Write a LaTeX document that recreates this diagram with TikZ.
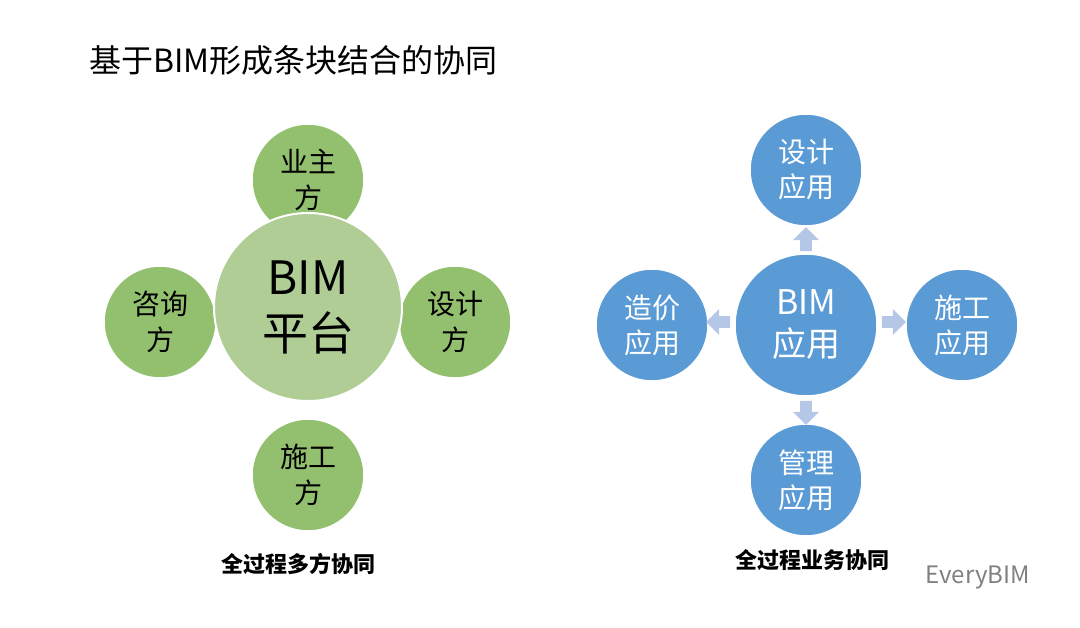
\documentclass[tikz,border=0pt]{standalone}
\usepackage{fontspec}
\setmainfont{Noto Sans CJK SC}
\usetikzlibrary{shapes.arrows}
\definecolor{greenbig}{HTML}{AFCD95}
\definecolor{greensmall}{HTML}{93C06E}
\definecolor{bluecirc}{HTML}{5B9BD5}
\definecolor{bluearrow}{HTML}{B4C7E7}
\begin{document}
\begin{tikzpicture}[x=1pt,y=1pt,
    party/.style={circle, fill=greensmall, draw=white, line width=1.5pt, minimum size=112pt, inner sep=0pt, align=center, font=\fontsize{28}{36}\selectfont},
    app/.style={circle, fill=bluecirc, draw=white, line width=1.5pt, minimum size=112pt, inner sep=0pt, align=center, text=white, font=\fontsize{28}{35}\selectfont},
    flow/.style={single arrow, fill=bluearrow, minimum height=24pt, minimum width=26pt, single arrow head extend=4pt, inner sep=3pt}]

  \useasboundingbox (0,0) rectangle (1080,628);
  \node[anchor=west, font=\fontsize{32}{38}\selectfont] (title) at (86,568) {基于BIM形成条块结合的协同};

  % left: parties
  \node[party] (owner) at (308,448) {业主\\方};
  \node[party] (consult) at (160,306) {咨询\\方};
  \node[party] (design) at (455,306) {设计\\方};
  \node[party] (build) at (308,153) {施工\\方};
  \node[circle, fill=greenbig, draw=white, line width=2pt, minimum size=188pt, inner sep=0pt, align=center, font=\fontsize{46}{56}\selectfont] (platform) at (308,321) {BIM\\平台};
  \node[font=\bfseries\fontsize{22}{26}\selectfont] (leftcap) at (298,64) {全过程多方协同};

  % right: applications
  \node[app] (designapp) at (806,458) {设计\\应用};
  \node[app] (costapp) at (652,303) {造价\\应用};
  \node[app] (buildapp) at (962,303) {施工\\应用};
  \node[app] (manageapp) at (806,148) {管理\\应用};
  \node[app, minimum size=142pt, font=\fontsize{34}{42}\selectfont] (bimapp) at (806,303) {BIM\\应用};
  \node[flow, rotate=90] at (806,386) {};
  \node[flow, rotate=-90] at (806,218) {};
  \node[flow, rotate=180] at (721,306) {};
  \node[flow] at (891,306) {};
  \node[font=\bfseries\fontsize{22}{26}\selectfont] (rightcap) at (812,68) {全过程业务协同};
  \node[anchor=west, text=gray, font=\fontsize{24}{28}\selectfont] (mark) at (922,50) {EveryBIM};
\end{tikzpicture}
\end{document}
